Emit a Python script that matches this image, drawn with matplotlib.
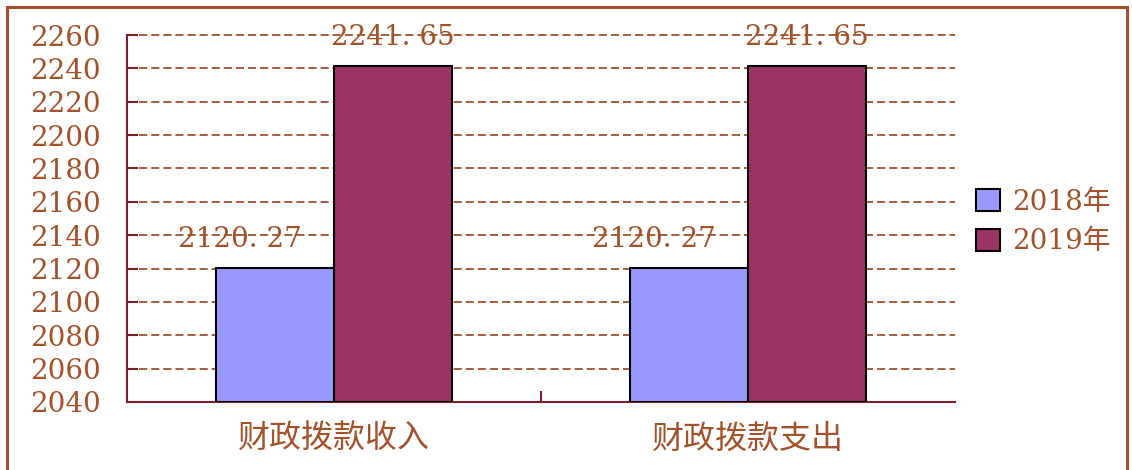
import numpy as np
import matplotlib
matplotlib.use("Agg")
import matplotlib.pyplot as plt
import matplotlib.patches as mpatches

categories = ["财政拨款收入", "财政拨款支出"]
series = ["2018年", "2019年"]
vals_2018 = [2120.27, 2120.27]
vals_2019 = [2241.65, 2241.65]
y_ticks = list(range(2040, 2261, 20))

C_2018 = "#9999FF"
C_2019 = "#993366"
C_TXT = "#A5522A"
C_AX = "#7B1E2E"
FONT = ["DejaVu Serif", "Noto Sans CJK SC", "DejaVu Sans"]
CJK = ["Noto Sans CJK SC", "DejaVu Sans"]

plt.rcParams["font.family"] = FONT

fig = plt.figure(figsize=(11.32, 4.70), dpi=100)
ax = fig.add_axes([0.1122, 0.1447, 0.7314, 0.7808])

# 图外边框
fig.patches.append(mpatches.Rectangle((7 / 1132, -0.02), 1120 / 1132, 1.0 - 7 / 470 + 0.02,
                                      transform=fig.transFigure, fill=False,
                                      edgecolor="#A5502A", lw=2.2))

x = np.arange(len(categories))
w = 0.285
ax.bar(x - w / 2, [v - 2040 for v in vals_2018], w, bottom=2040, color=C_2018,
       edgecolor="black", lw=1.5, label=series[0], zorder=3)
ax.bar(x + w / 2, [v - 2040 for v in vals_2019], w, bottom=2040, color=C_2019,
       edgecolor="black", lw=1.5, label=series[1], zorder=3)

# 数据标签
for xi, v in zip(x - w / 2, vals_2018):
    ax.annotate(f"{v:.2f}".replace(".", ". "), xy=(xi - 0.085, v), xytext=(0, 20.5),
                textcoords="offset points", ha="center", va="center",
                fontsize=20, color=C_TXT, zorder=5)
for xi, v in zip(x + w / 2, vals_2019):
    ax.annotate(f"{v:.2f}".replace(".", ". "), xy=(xi, v), xytext=(0, 20.5),
                textcoords="offset points", ha="center", va="center",
                fontsize=20, color=C_TXT, zorder=5)

ax.set_ylim(2040, 2260)
ax.set_xlim(-0.5, 1.5)
ax.set_yticks(y_ticks)
ax.set_yticklabels([str(t) for t in y_ticks], fontsize=20, color=C_TXT)
ax.set_xticks(x)
ax.set_xticklabels(categories, fontsize=23, color=C_TXT, family=CJK)
ax.set_xticks([0.5], minor=True)
ax.tick_params(axis="x", which="major", length=0, pad=15)
ax.tick_params(axis="x", which="minor", length=8, direction="in", color=C_AX, width=1.5)
ax.tick_params(axis="y", length=8, direction="in", color=C_AX, width=1.5, pad=19)

ax.grid(axis="y", color="#A0522D", lw=1.3, linestyle=(0, (4.5, 2.2)), zorder=1)
for gl in ax.get_ygridlines():
    gl.set_clip_on(False)
ax.set_axisbelow(True)
for s in ["top", "right"]:
    ax.spines[s].set_visible(False)
for s in ["left", "bottom"]:
    ax.spines[s].set_color(C_AX)
    ax.spines[s].set_linewidth(1.5)

leg = ax.legend(loc="center left", bbox_to_anchor=(1.012, 0.49), frameon=False,
                fontsize=20, handlelength=0.85, handleheight=0.85, handletextpad=0.45,
                labelspacing=0.45, borderaxespad=0)
for t in leg.get_texts():
    t.set_color(C_TXT)

fig.savefig("out.png", dpi=100)
